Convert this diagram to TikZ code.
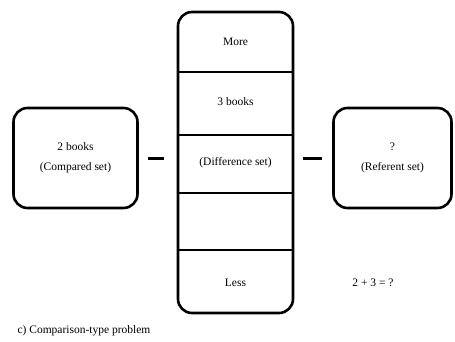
\documentclass[tikz,border=0pt]{standalone}
\usepackage{fontspec}
\setmainfont{Liberation Serif}
\begin{document}
\begin{tikzpicture}[x=1pt,y=-1pt,
  txt/.style={font=\fontsize{11.5}{20}\selectfont},
  setbox/.style={txt,draw,line width=2.6pt,rounded corners=14pt,minimum height=100pt,align=center},
  cell/.style={txt,minimum width=114pt},
  rule/.style={line width=2.4pt},
  link/.style={line width=3pt}]
  \useasboundingbox (0,0) rectangle (455,341);
  % outer sets
  \node[setbox,minimum width=124pt] (left) at (75.5,158) {2 books\\(Compared set)};
  \node[setbox,minimum width=118pt] (right) at (392.5,158) {?\\(Referent set)};
  % middle column with its five cells
  \node[draw,line width=2.6pt,rounded corners=14pt,minimum width=115pt,minimum height=301pt] (col) at (235.5,162.5) {};
  \node[cell] (more) at (235.5,42) {More};
  \node[cell] (three) at (235.5,102) {3 books};
  \node[cell] (diff) at (235.5,163) {(Difference set)};
  \node[cell] (blank) at (235.5,221) {};
  \node[cell] (less) at (235.5,283) {Less};
  \foreach \y in {72,135,193,250}
    \draw[rule] (col.west |- 0,\y) -- (col.east |- 0,\y);
  % links between the sets
  \draw[link,shorten <=9pt,shorten >=13pt] (left.east) -- (left.east -| col.west);
  \draw[link,shorten <=9pt,shorten >=10pt] (right.west -| col.east) -- (right.west);
  % equation and caption
  \node[txt] (eq) at (373,283) {2 + 3 = ?};
  \node[txt,anchor=west] (cap) at (14,331) {c) Comparison-type problem};
\end{tikzpicture}
\end{document}
